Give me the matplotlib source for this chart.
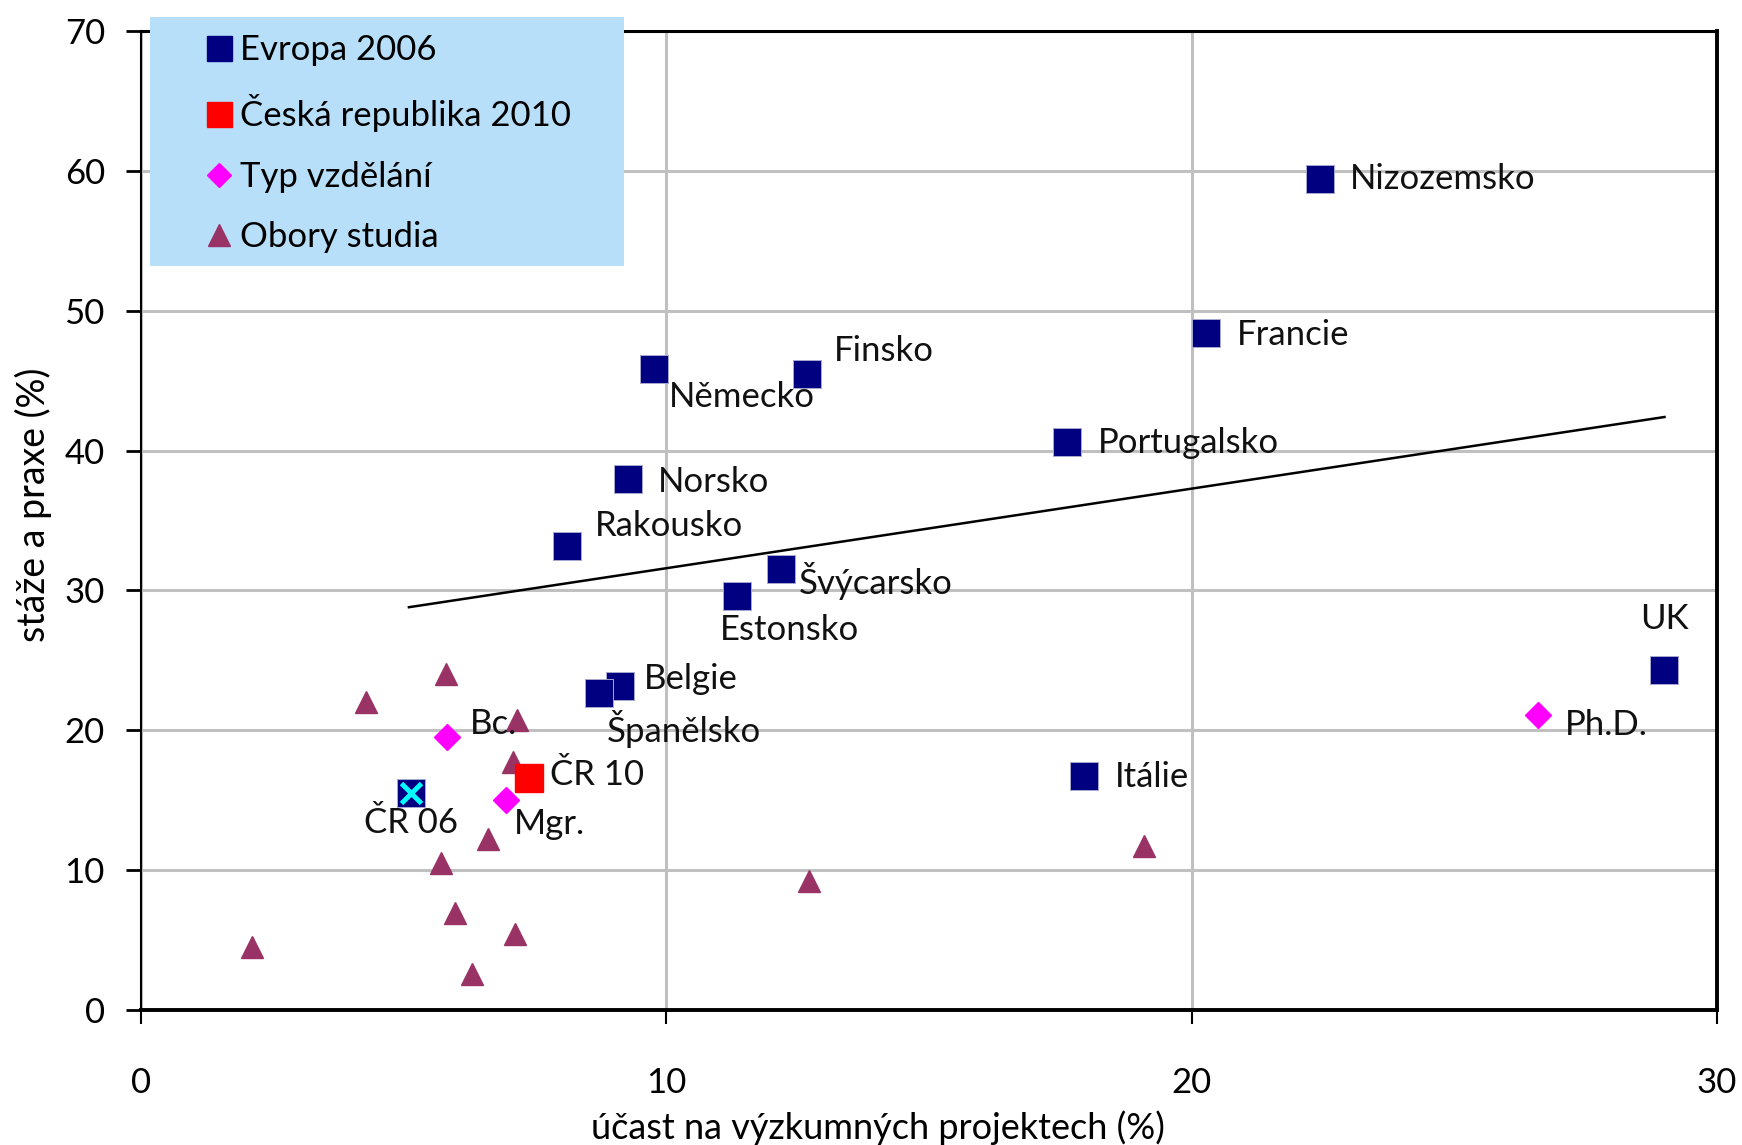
import matplotlib
matplotlib.use('Agg')
import matplotlib.pyplot as plt
from matplotlib.lines import Line2D
from matplotlib.patches import Rectangle

plt.rcParams['font.family'] = ['Lato', 'DejaVu Sans']

# ---------------- data ----------------
europe_names = ['Nizozemsko', 'Francie', 'Finsko', 'Německo', 'Portugalsko', 'Norsko',
                'Rakousko', 'Švýcarsko', 'Estonsko', 'Belgie', 'Španělsko', 'Itálie',
                'UK', 'ČR 06']
europe_x = [22.45, 20.27, 12.67, 9.77, 17.62, 9.27, 8.10, 12.19, 11.34, 9.12, 8.72, 17.96, 29.0, 5.14]
europe_y = [59.4, 48.4, 45.5, 45.8, 40.6, 38.0, 33.2, 31.5, 29.6, 23.2, 22.7, 16.7, 24.3, 15.5]

cz10_names = ['ČR 10']
cz10_x = [7.38]
cz10_y = [16.6]

edu_names = ['Bc.', 'Mgr.', 'Ph.D.']
edu_x = [5.82, 6.94, 26.6]
edu_y = [19.5, 15.0, 21.1]

field_x = [2.12, 4.29, 5.80, 7.15, 7.09, 6.60, 5.71, 5.97, 7.11, 6.31, 12.71, 19.10]
field_y = [4.5, 22.0, 24.0, 20.7, 17.7, 12.2, 10.5, 6.9, 5.4, 2.6, 9.2, 11.7]

trend_x = [5.1, 29.0]
trend_y = [28.8, 42.4]

highlight = 'ČR 06'

legend_labels = ['Evropa 2006', 'Česká republika 2010', 'Typ vzdělání', 'Obory studia']
x_ticks = [0, 10, 20, 30]
y_ticks = [0, 10, 20, 30, 40, 50, 60, 70]
x_label = 'účast na výzkumných projektech (%)'
y_label = 'stáže a praxe (%)'

# ---------------- label placement (offset pixels, ha) ----------------
label_pos = {
    'Nizozemsko': (30, 0, 'left'), 'Francie': (31, -2, 'left'), 'Finsko': (27, 23, 'left'),
    'Německo': (15, -28, 'left'), 'Portugalsko': (31, -1, 'left'), 'Norsko': (30, -3, 'left'),
    'Rakousko': (28, 20, 'left'), 'Švýcarsko': (17, -12, 'left'), 'Estonsko': (-17, -34, 'left'),
    'Belgie': (24, 7, 'left'), 'Španělsko': (8, -36, 'left'), 'Itálie': (30, -1, 'left'),
    'UK': (0, 51, 'center'), 'ČR 06': (0, -30, 'center'), 'ČR 10': (21, 3, 'left'),
    'Bc.': (23, 13, 'left'), 'Mgr.': (8, -24, 'left'), 'Ph.D.': (26, -10, 'left'),
}

NAVY = '#000080'
RED = '#ff0000'
MAGENTA = '#ff00ff'
PLUM = '#993366'

W, H = 1742, 1145
fig = plt.figure(figsize=(W / 100, H / 100), dpi=100)
ax = fig.add_axes([141 / W, 1 - 1010 / H, (1717 - 141) / W, (1010 - 31) / H])

ax.set_xlim(0, 30)
ax.set_ylim(0, 70)
ax.set_xticks(x_ticks)
ax.set_yticks(y_ticks)
ax.grid(True, color='#c0c0c0', lw=2.2)
ax.set_axisbelow(True)

ax.plot(trend_x, trend_y, color='black', lw=1.8, zorder=2)

ax.plot(field_x, field_y, ls='none', marker='^', ms=16, color=PLUM, zorder=3)
ax.plot(europe_x, europe_y, ls='none', marker='s', ms=20.5, color=NAVY,
        mec='#a8a8d0', mew=0.7, zorder=4)
hi = europe_names.index(highlight)
ax.plot([europe_x[hi]], [europe_y[hi]], ls='none', marker='x', ms=14, mew=3.5,
        color='#00ffff', zorder=5)
ax.plot(cz10_x, cz10_y, ls='none', marker='s', ms=20.5, color=RED, zorder=4)
ax.plot(edu_x, edu_y, ls='none', marker='D', ms=13, color=MAGENTA, zorder=4)

LABEL_FS = 25
for names, xs, ys in [(europe_names, europe_x, europe_y), (cz10_names, cz10_x, cz10_y),
                      (edu_names, edu_x, edu_y)]:
    for n, x, y in zip(names, xs, ys):
        dx, dy, ha = label_pos[n]
        ax.annotate(n, (x, y), xytext=(dx, dy), textcoords='offset pixels',
                    ha=ha, va='center', fontsize=LABEL_FS, color='#111111', zorder=6)

for side, lw in [('left', 1.5), ('bottom', 2.8), ('top', 2.2), ('right', 2.8)]:
    ax.spines[side].set_linewidth(lw)
    ax.spines[side].set_color('black')

ax.tick_params(axis='y', length=11, width=2, pad=15, labelsize=25)
ax.tick_params(axis='x', length=10, width=1.5, pad=31, labelsize=25)

ax.set_xlabel(x_label, fontsize=26, va='center')
ax.xaxis.set_label_coords(0.4676, -0.1205)
ax.set_ylabel(y_label, fontsize=27, va='center')
ax.yaxis.set_label_coords(-0.0685, 0.516)

# legend background box
fig.patches.append(Rectangle((150 / W, 1 - 266 / H), 474 / W, 249 / H,
                             transform=fig.transFigure, facecolor='#b8dffa',
                             edgecolor='none', zorder=5))
handles = [
    Line2D([], [], ls='none', marker='s', ms=18, color=NAVY),
    Line2D([], [], ls='none', marker='s', ms=18, color=RED),
    Line2D([], [], ls='none', marker='D', ms=12, color=MAGENTA),
    Line2D([], [], ls='none', marker='^', ms=16, color=PLUM),
]
leg = fig.legend(handles, legend_labels, loc='upper left',
                 bbox_to_anchor=(202 / W, 1 - 34 / H), bbox_transform=fig.transFigure,
                 frameon=False, fontsize=25, handlelength=0.96, handletextpad=0.14,
                 labelspacing=0.82, borderpad=0, borderaxespad=0)
leg.set_zorder(6)

fig.savefig('out.png', dpi=100)
